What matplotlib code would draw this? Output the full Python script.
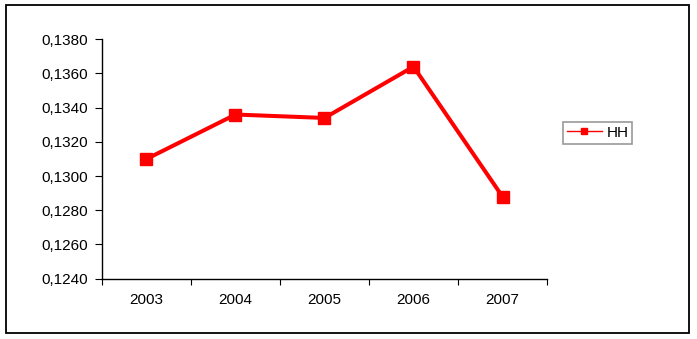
import matplotlib.pyplot as plt
from matplotlib.ticker import FuncFormatter, FixedLocator, NullFormatter
from matplotlib.patches import Rectangle
from matplotlib.lines import Line2D

years = ['2003', '2004', '2005', '2006', '2007']
hh = [0.1310, 0.1336, 0.1334, 0.1364, 0.1288]

plt.rcParams['font.family'] = ['Liberation Sans', 'DejaVu Sans']

fig = plt.figure(figsize=(6.97, 3.39), dpi=100)
ax = fig.add_axes([0.1463, 0.1779, 0.6385, 0.7062])

x = list(range(len(years)))
ax.plot(x, hh, color='#ff0000', linewidth=2.9, marker='s', markersize=8.5)

ax.set_xlim(-0.5, len(years) - 0.5)
ax.set_ylim(0.1240, 0.1380)
ax.set_yticks([0.1240 + 0.0020 * i for i in range(8)])
ax.yaxis.set_major_formatter(FuncFormatter(lambda v, p: f'{v:.4f}'.replace('.', ',')))

# category labels centered, ticks at boundaries
ax.xaxis.set_major_locator(FixedLocator([i - 0.5 for i in range(len(years) + 1)]))
ax.xaxis.set_major_formatter(NullFormatter())
ax.xaxis.set_minor_locator(FixedLocator(x))
ax.set_xticklabels(years, minor=True)
ax.tick_params(axis='x', which='minor', length=0, pad=10, labelsize=11)
ax.tick_params(axis='x', which='major', length=4, direction='out')
ax.tick_params(axis='y', length=5, direction='out', labelsize=11, pad=5)

for s in ['top', 'right']:
    ax.spines[s].set_visible(False)
for s in ['left', 'bottom']:
    ax.spines[s].set_linewidth(1.0)

handle = Line2D([], [], color='#ff0000', linewidth=1.0, marker='s', markersize=5)
leg = ax.legend([handle], ['HH'], loc='upper left', bbox_to_anchor=(1.036, 0.655),
                frameon=True, fancybox=False, fontsize=11, handlelength=2.3,
                handletextpad=0.3, borderpad=0.25, borderaxespad=0)
leg.get_frame().set_edgecolor('#808080')
leg.get_frame().set_linewidth(1.2)

# outer chart border
fig.patches.append(Rectangle((6 / 697, 6 / 339), 683 / 697, 328 / 339,
                             transform=fig.transFigure, fill=False,
                             edgecolor='black', linewidth=1.3))

fig.savefig('out.png', dpi=100)
